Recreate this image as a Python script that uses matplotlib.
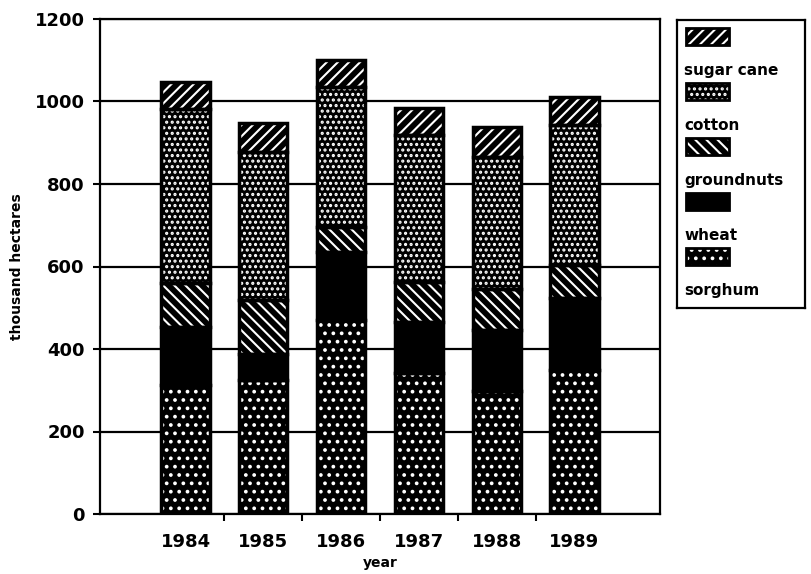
#!/usr/bin/env python3
"""
Stacked bar chart: crop area (thousand hectares) by year, 1984-1989.
Black and white hatched style, legend box on the right with labels under swatches.
"""
import matplotlib
matplotlib.use('Agg')
import matplotlib.pyplot as plt
from matplotlib.patches import Rectangle

years = ['1984', '1985', '1986', '1987', '1988', '1989']

# values, thousand hectares
sorghum = [313, 325, 470, 341, 297, 349]
wheat = [141, 63, 166, 125, 149, 174]
groundnuts = [105, 131, 60, 97, 99, 81]
cotton = [422, 359, 340, 356, 321, 339]
sugar_cane = [67, 71, 64, 66, 71, 69]

crops = ['sorghum', 'wheat', 'groundnuts', 'cotton', 'sugar cane']
series = [sorghum, wheat, groundnuts, cotton, sugar_cane]
hatches = ['..', '', '\\\\\\', '...', '///']

yticks = [0, 200, 400, 600, 800, 1000, 1200]

plt.rcParams['font.family'] = 'DejaVu Sans'
plt.rcParams['font.weight'] = 'bold'
plt.rcParams['hatch.linewidth'] = 1.5

W, H = 811, 574
fig = plt.figure(figsize=(W / 100, H / 100), dpi=100)
ax = fig.add_axes([100 / W, 1 - 514 / H, 560 / W, 495 / H])

x = list(range(len(years)))
width = 0.62
bottom = [0] * len(years)
for vals, hatch in zip(series, hatches):
    # white hatch on black face, then a black outline around each block
    ax.bar(x, vals, width, bottom=bottom, color='black', edgecolor='white',
           linewidth=0, hatch=hatch, zorder=2)
    ax.bar(x, vals, width, bottom=bottom, fill=False, edgecolor='black',
           linewidth=2.5, zorder=3)
    bottom = [b + v for b, v in zip(bottom, vals)]

ax.set_xlim(-1.1, len(years) - 1 + 1.1)
ax.set_ylim(0, 1200)
ax.set_yticks(yticks)
ax.set_yticklabels([str(t) for t in yticks], fontsize=13, fontweight='bold')
ax.set_xticks(x)
ax.set_xticklabels(years, fontsize=13, fontweight='bold')
ax.tick_params(axis='x', which='major', length=0, pad=14)
ax.set_xticks([i + 0.5 for i in x[:-1]], minor=True)
ax.tick_params(axis='x', which='minor', length=5, width=1.5, direction='out')
ax.tick_params(axis='y', length=5, width=1.5, direction='out', pad=6)

ax.yaxis.grid(True, color='black', linewidth=1.6)
ax.set_axisbelow(True)
for s in ax.spines.values():
    s.set_linewidth(1.6)

ax.set_ylabel('thousand hectares', fontsize=10, fontweight='bold', labelpad=8)
ax.set_xlabel('year', fontsize=10, fontweight='bold', labelpad=3)

# legend box, drawn by hand in pixel units
lg = fig.add_axes([677 / W, 1 - 308 / H, 128 / W, 288 / H])
lg.set_xlim(0, 128)
lg.set_ylim(288, 0)
lg.set_xticks([])
lg.set_yticks([])
for s in lg.spines.values():
    s.set_linewidth(1.6)

for i, (name, hatch) in enumerate(zip(crops[::-1], hatches[::-1])):
    top = 8 + i * 55
    lg.add_patch(Rectangle((9, top), 43, 17, facecolor='black', edgecolor='white',
                           linewidth=0, hatch=hatch))
    lg.add_patch(Rectangle((9, top), 43, 17, fill=False, edgecolor='black', linewidth=2))
    lg.text(7, top + 43, name, fontsize=11, fontweight='bold', ha='left', va='center')

fig.savefig('out.png', dpi=100)
